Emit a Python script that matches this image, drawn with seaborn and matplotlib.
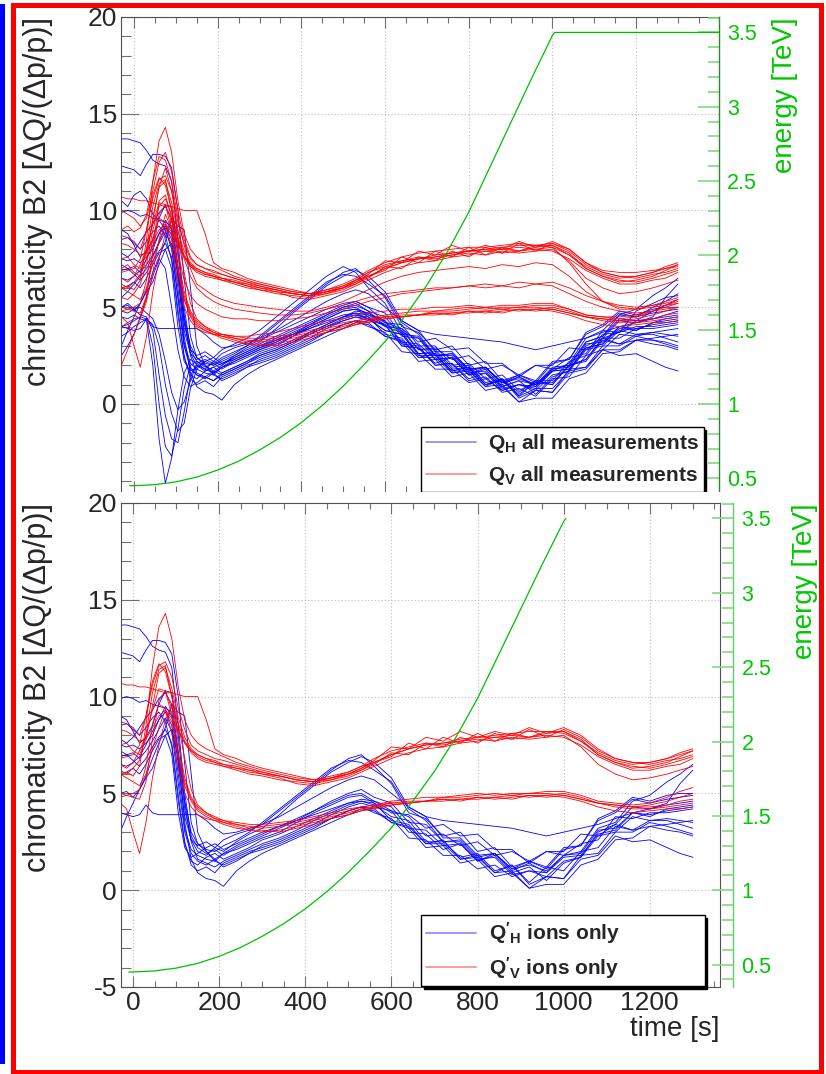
"""
Chromaticity B2 during the energy ramp: all measurements (top) and ions only (bottom),
with the beam energy on a secondary axis.
"""
import matplotlib; matplotlib.use("Agg")
import matplotlib.pyplot as plt
from matplotlib.lines import Line2D
from matplotlib.patches import Rectangle
from matplotlib.ticker import MultipleLocator, FormatStrFormatter
import pandas as pd
import seaborn as sns

# ── DATA ─────────────────────────────────────────────────────────────────────
TIME = [-30, -15, 0, 15, 30, 45, 60, 75, 90, 105, 120, 135, 150, 170, 190,
        210, 240, 270, 300, 340, 380, 420, 460, 500, 530, 560, 600, 640, 680, 720,
        760, 800, 840, 880, 920, 960, 1000, 1040, 1080, 1120, 1160, 1200, 1240, 1270, 1300]

# Q'H, ion fills (drawn in both panels)
QH_IONS = [
    [13.7, 13.7, 13.6, 13.5, 13.1, 12.6, 12.4, 12.3, 11.5, 8.5, 5.0, 2.8, 2.2, 1.9, 2.1,
     1.8, 2.2, 2.5, 2.8, 3.2, 3.6, 4.1, 4.5, 4.9, 5.0, 4.6, 4.3, 3.2, 3.1, 2.3,
     2.4, 1.5, 1.9, 1.0, 1.4, 0.9, 1.8, 1.9, 3.1, 3.2, 4.0, 3.8, 4.2, 4.3, 4.4],
    [12.3, 12.2, 12.1, 11.8, 12.4, 12.9, 12.9, 12.8, 12.2, 10.0, 6.5, 3.5, 2.4, 2.0, 1.6,
     1.9, 2.1, 2.4, 2.7, 3.0, 3.5, 4.0, 4.4, 4.8, 4.9, 4.5, 3.6, 3.4, 2.4, 2.6,
     1.6, 1.8, 0.9, 1.3, 0.4, 1.2, 1.0, 2.0, 2.2, 3.3, 3.1, 3.6, 3.6, 3.4, 3.2],
    [9.9, 10.0, 9.9, 9.7, 9.8, 9.6, 9.5, 9.4, 9.2, 7.0, 4.2, 2.6, 2.0, 1.8, 2.2,
     2.0, 2.5, 2.9, 3.2, 3.9, 4.7, 5.4, 6.1, 6.6, 6.9, 6.6, 5.8, 4.3, 3.8, 2.7,
     2.7, 1.8, 1.9, 1.1, 1.3, 1.0, 1.8, 2.0, 3.2, 3.5, 4.6, 4.9, 5.6, 6.0, 6.5],
    [9.0, 8.8, 8.2, 7.6, 7.9, 8.5, 9.6, 10.3, 10.2, 8.0, 4.5, 2.5, 1.6, 1.4, 1.2,
     1.5, 1.8, 2.1, 2.4, 2.7, 3.1, 3.6, 4.0, 4.4, 4.6, 4.4, 3.8, 3.6, 2.5, 2.5,
     1.7, 1.9, 1.0, 1.3, 0.3, 0.7, 0.6, 1.8, 1.9, 3.0, 3.0, 3.5, 3.3, 3.1, 2.9],
    [7.5, 7.4, 7.5, 7.3, 7.6, 8.0, 8.8, 9.5, 9.0, 6.5, 3.8, 2.6, 2.3, 2.5, 2.2,
     2.6, 2.9, 3.1, 3.4, 4.1, 4.8, 5.5, 6.2, 6.8, 7.0, 6.4, 5.5, 4.0, 3.7, 2.8,
     3.0, 2.0, 2.2, 1.2, 1.5, 1.1, 2.1, 2.3, 3.7, 4.1, 4.8, 4.6, 4.9, 5.0, 5.0],
    [7.2, 7.0, 7.1, 6.8, 7.2, 7.7, 8.3, 8.9, 8.2, 5.5, 3.0, 1.9, 1.5, 1.3, 1.6,
     1.2, 1.5, 1.9, 2.3, 2.6, 3.0, 3.4, 3.9, 4.3, 4.5, 4.3, 4.1, 3.0, 2.9, 2.1,
     2.4, 1.5, 1.8, 0.9, 1.2, 0.5, 1.4, 1.7, 2.8, 3.0, 3.8, 3.6, 3.7, 3.6, 3.5],
    [6.9, 7.0, 6.7, 6.4, 6.8, 7.4, 7.9, 8.3, 7.6, 4.9, 2.5, 1.3, 1.0, 1.2, 0.9,
     1.4, 1.7, 2.0, 2.2, 2.5, 2.9, 3.3, 3.7, 4.1, 4.3, 4.2, 3.5, 3.2, 2.2, 2.3,
     1.4, 1.6, 0.7, 0.9, 0.1, 0.7, 0.6, 1.6, 1.8, 2.8, 2.5, 2.6, 2.2, 1.9, 1.7],
    [6.5, 6.4, 6.6, 6.9, 7.5, 8.2, 8.8, 9.2, 8.5, 6.0, 3.2, 2.1, 1.8, 1.6, 1.5,
     1.9, 2.3, 2.6, 2.9, 3.3, 3.7, 4.1, 4.6, 5.0, 5.2, 4.8, 4.5, 3.5, 3.4, 2.5,
     2.6, 1.7, 1.9, 1.1, 1.5, 1.2, 2.2, 2.3, 3.6, 4.0, 4.7, 4.5, 4.7, 4.8, 4.9],
    [6.0, 6.1, 6.3, 6.0, 6.5, 7.2, 7.8, 8.0, 7.0, 4.0, 2.2, 1.7, 1.9, 2.2, 2.4,
     2.1, 2.4, 2.7, 3.0, 3.3, 3.6, 3.9, 4.2, 4.5, 4.6, 4.5, 4.0, 3.9, 3.2, 3.4,
     2.8, 2.9, 2.1, 2.1, 1.4, 2.0, 2.0, 2.9, 2.8, 3.4, 3.1, 3.3, 3.1, 3.0, 2.8],
    [5.0, 5.1, 4.8, 5.2, 5.9, 6.8, 7.6, 8.4, 9.6, 9.2, 9.0, 6.0, 3.0, 2.0, 1.5,
     1.3, 1.6, 1.9, 2.1, 2.4, 2.8, 3.2, 3.7, 4.1, 4.3, 4.0, 3.7, 2.7, 2.6, 1.8,
     1.8, 1.1, 1.3, 0.7, 1.0, 0.9, 1.7, 1.8, 2.9, 3.1, 4.0, 3.9, 4.1, 4.2, 4.3],
    [4.0, 3.9, 3.8, 3.9, 4.4, 4.0, 3.9, 3.9, 3.9, 3.9, 3.9, 3.9, 3.9, 3.6, 3.2,
     2.9, 3.0, 3.2, 3.4, 3.8, 4.3, 4.8, 5.3, 5.7, 5.9, 5.7, 5.0, 4.3, 3.8, 3.6,
     3.5, 3.4, 3.3, 3.2, 3.0, 2.8, 3.0, 3.2, 3.4, 3.7, 4.0, 4.2, 4.5, 5.5, 6.2],
    [3.0, 3.8, 4.5, 5.2, 5.8, 6.3, 7.2, 8.0, 8.3, 6.8, 3.5, 1.6, 0.9, 0.6, 0.5,
     0.2, 1.0, 1.5, 1.9, 2.3, 2.7, 3.1, 3.5, 3.9, 4.2, 4.1, 3.5, 3.3, 2.4, 2.4,
     1.6, 1.7, 0.9, 1.0, 0.1, 0.3, 0.3, 1.3, 1.6, 2.6, 2.7, 3.3, 3.4, 3.5, 3.6],
    [7.8, 7.6, 7.9, 8.4, 8.9, 9.3, 9.9, 10.2, 9.6, 7.2, 4.6, 3.0, 2.4, 2.1, 2.0,
     2.3, 2.6, 3.0, 3.5, 4.2, 4.9, 5.6, 6.3, 6.7, 6.6, 6.2, 5.6, 4.2, 3.6, 2.5,
     2.5, 1.6, 1.7, 0.8, 1.0, 0.7, 1.5, 1.7, 3.0, 3.4, 4.3, 4.2, 4.4, 4.5, 4.6],
    [8.5, 8.6, 8.3, 8.0, 8.4, 8.9, 9.2, 8.7, 7.4, 4.6, 2.4, 1.5, 1.3, 1.7, 1.9,
     1.6, 1.9, 2.2, 2.6, 2.9, 3.3, 3.7, 4.1, 4.5, 4.7, 4.6, 4.1, 3.8, 2.8, 2.9,
     2.3, 2.5, 1.8, 2.0, 1.5, 2.0, 1.8, 2.4, 2.6, 3.8, 3.7, 4.0, 4.0, 4.1, 4.2],
]

# Q'H, remaining (proton) measurements, top panel only
QH_OTHER = [
    [4.5, 4.4, 4.6, 4.4, 4.3, 2.0, -1.8, -4.1, -2.8, -0.3, 1.6, 2.3, 2.1, 1.8, 1.6,
     1.9, 2.2, 2.5, 2.8, 3.1, 3.5, 3.9, 4.3, 4.6, 4.7, 4.4, 4.1, 3.0, 2.9, 2.0,
     2.1, 1.3, 1.6, 0.9, 1.2, 1.0, 1.7, 1.8, 2.9, 3.1, 3.9, 3.8, 4.2, 4.4, 4.5],
    [3.5, 3.7, 4.0, 4.2, 4.4, 3.0, 0.0, -2.2, -2.7, -1.3, 0.8, 2.0, 2.2, 2.0, 1.7,
     2.0, 2.4, 2.7, 3.0, 3.4, 3.8, 4.2, 4.6, 5.0, 5.1, 4.8, 4.0, 3.7, 2.6, 2.6,
     1.7, 1.9, 1.0, 1.2, 0.5, 1.1, 1.1, 2.0, 2.3, 3.4, 3.4, 3.9, 3.9, 4.0, 4.1],
    [5.0, 5.2, 4.9, 4.6, 4.5, 3.8, 1.5, -0.6, -1.8, -2.0, -0.4, 1.5, 2.0, 1.7, 1.9,
     2.1, 2.3, 2.6, 2.9, 3.2, 3.6, 4.0, 4.4, 4.8, 4.9, 4.7, 4.3, 3.1, 3.0, 2.0,
     2.1, 1.2, 1.4, 0.6, 0.8, 0.4, 1.3, 1.4, 2.5, 2.8, 3.6, 3.5, 3.7, 3.8, 3.9],
    [4.0, 4.1, 4.3, 4.5, 4.4, 4.1, 3.0, 1.0, -0.5, -1.4, -1.0, 0.8, 1.8, 2.2, 2.0,
     2.2, 2.5, 2.8, 3.1, 3.5, 3.9, 4.3, 4.7, 5.1, 5.3, 5.0, 4.2, 3.9, 2.8, 2.8,
     1.9, 2.0, 1.1, 1.3, 0.6, 1.2, 1.2, 2.2, 2.5, 3.6, 3.7, 4.3, 4.4, 4.6, 4.8],
    [4.8, 4.7, 4.9, 5.0, 4.7, 4.4, 3.6, 2.2, 0.6, -0.3, 0.1, 1.2, 2.1, 2.3, 2.1,
     2.4, 2.7, 3.0, 3.3, 3.7, 4.1, 4.5, 4.9, 5.2, 5.3, 5.0, 4.7, 3.6, 3.5, 2.5,
     2.6, 1.8, 1.9, 1.1, 1.4, 1.0, 1.9, 2.0, 3.2, 3.5, 4.4, 4.3, 4.8, 5.1, 5.4],
    [10.5, 10.2, 10.8, 11.0, 10.6, 9.8, 9.5, 9.0, 8.0, 5.5, 3.0, 1.8, 1.5, 1.4, 1.7,
     1.5, 1.8, 2.1, 2.5, 2.8, 3.2, 3.7, 4.1, 4.5, 4.8, 4.7, 4.2, 4.1, 3.0, 3.0,
     2.0, 2.1, 1.3, 1.5, 0.7, 1.1, 1.0, 2.0, 2.3, 3.4, 3.7, 4.8, 5.2, 5.5, 5.6],
    [5.5, 5.8, 6.2, 6.6, 7.0, 7.6, 8.4, 9.1, 8.8, 6.8, 4.2, 2.8, 2.5, 2.7, 2.4,
     2.8, 3.1, 3.4, 3.8, 4.5, 5.2, 5.9, 6.6, 7.1, 6.8, 6.0, 5.2, 3.7, 3.4, 2.3,
     2.4, 1.5, 1.6, 0.7, 1.0, 0.8, 1.7, 2.1, 3.4, 3.8, 4.6, 4.5, 5.0, 5.3, 5.7],
    [2.5, 3.0, 3.6, 4.5, 5.5, 6.6, 7.5, 7.0, 5.0, 2.8, 1.4, 0.9, 1.1, 1.4, 1.2,
     1.6, 1.9, 2.2, 2.5, 2.8, 3.2, 3.6, 4.0, 4.3, 4.5, 4.4, 3.8, 3.6, 2.6, 2.7,
     1.8, 1.9, 1.0, 1.2, 0.4, 0.8, 0.8, 1.7, 1.9, 2.8, 2.8, 3.3, 3.3, 3.2, 3.0],
]

# Q'V, ion fills (both panels)
QV_IONS = [
    [6.0, 6.1, 5.9, 6.4, 8.5, 11.5, 13.6, 14.3, 13.0, 10.5, 8.8, 8.0, 7.6, 7.3, 7.1,
     6.9, 6.6, 6.4, 6.2, 6.0, 5.8, 5.7, 5.8, 6.0, 6.2, 6.5, 7.1, 7.0, 7.6, 7.4,
     7.9, 7.6, 8.1, 7.8, 8.3, 7.9, 8.3, 7.9, 7.2, 6.8, 6.6, 6.5, 6.7, 6.8, 7.0],
    [10.7, 10.6, 10.6, 10.5, 10.5, 10.4, 10.3, 10.2, 10.2, 10.1, 10.0, 10.0, 10.0, 8.8, 7.3,
     7.0, 6.8, 6.5, 6.3, 6.1, 5.9, 5.7, 5.9, 6.1, 6.4, 6.6, 7.0, 7.3, 7.5, 7.6,
     7.8, 7.9, 8.0, 8.1, 8.2, 8.2, 8.2, 7.8, 7.0, 6.6, 6.3, 6.4, 6.6, 6.9, 7.2],
    [8.7, 8.6, 8.4, 8.0, 9.0, 10.6, 11.6, 11.8, 11.0, 9.4, 8.3, 7.5, 7.2, 7.0, 6.8,
     6.7, 6.5, 6.3, 6.1, 5.9, 5.7, 5.6, 5.7, 5.9, 6.2, 6.6, 6.9, 7.6, 7.3, 7.9,
     7.6, 8.1, 7.7, 8.1, 7.9, 8.2, 8.1, 7.7, 7.0, 6.6, 6.4, 6.3, 6.5, 6.7, 6.9],
    [7.5, 7.6, 7.2, 7.0, 7.8, 9.5, 11.2, 11.5, 10.4, 8.9, 7.9, 7.3, 7.0, 6.8, 6.7,
     6.5, 6.3, 6.1, 6.0, 5.8, 5.5, 5.4, 5.6, 5.8, 6.1, 6.4, 6.8, 7.1, 7.3, 7.4,
     7.6, 7.7, 7.9, 7.8, 7.9, 8.0, 7.9, 7.5, 6.9, 6.5, 6.2, 6.2, 6.4, 6.5, 6.8],
    [6.5, 6.3, 6.6, 7.2, 8.0, 9.3, 10.4, 10.3, 9.4, 8.3, 7.6, 7.1, 6.8, 6.6, 6.5,
     6.4, 6.2, 6.0, 5.9, 5.7, 5.6, 5.5, 5.7, 6.0, 6.3, 6.7, 7.4, 7.3, 7.9, 7.7,
     8.2, 7.9, 8.2, 8.0, 8.4, 8.1, 8.4, 8.0, 7.3, 6.8, 6.6, 6.6, 6.8, 7.1, 7.3],
    [8.3, 8.2, 8.0, 7.7, 7.8, 8.4, 9.0, 9.3, 8.9, 8.2, 7.6, 7.2, 6.9, 6.7, 6.6,
     6.4, 6.3, 6.2, 6.0, 5.9, 5.7, 5.6, 5.8, 6.1, 6.4, 6.8, 7.2, 7.4, 7.6, 7.5,
     7.7, 7.8, 7.7, 7.9, 7.8, 7.9, 8.0, 7.4, 6.5, 6.0, 5.7, 5.8, 6.0, 6.2, 6.4],
    [6.2, 6.0, 6.3, 6.7, 8.0, 10.2, 11.4, 11.6, 10.0, 7.6, 5.8, 4.8, 4.3, 4.0, 3.8,
     3.6, 3.4, 3.3, 3.2, 3.3, 3.4, 3.6, 3.8, 4.0, 4.2, 4.3, 4.5, 4.6, 4.6, 4.7,
     4.7, 4.8, 4.8, 4.9, 4.8, 4.9, 5.0, 4.8, 4.5, 4.4, 4.3, 4.4, 4.6, 4.8, 5.0],
    [4.5, 4.2, 3.0, 1.9, 3.5, 5.8, 7.5, 8.8, 9.5, 8.6, 6.8, 5.2, 4.4, 4.0, 3.7,
     3.5, 3.3, 3.1, 3.1, 3.0, 3.2, 3.4, 3.7, 3.9, 4.1, 4.2, 4.4, 4.5, 4.6, 4.6,
     4.7, 4.7, 4.8, 4.7, 4.9, 4.8, 4.9, 4.7, 4.5, 4.3, 4.2, 4.2, 4.3, 4.4, 4.5],
    [5.0, 4.9, 4.8, 4.7, 5.6, 7.8, 9.8, 10.3, 9.0, 6.9, 5.4, 4.6, 4.1, 3.8, 3.6,
     3.5, 3.4, 3.2, 3.3, 3.4, 3.5, 3.7, 3.9, 4.1, 4.3, 4.4, 4.6, 4.7, 4.8, 4.8,
     4.9, 5.0, 4.9, 5.0, 5.0, 5.1, 5.1, 4.9, 4.6, 4.5, 4.4, 4.5, 4.8, 5.1, 5.3],
    [4.8, 4.9, 5.0, 5.2, 6.4, 8.6, 9.6, 9.4, 8.1, 6.3, 5.0, 4.3, 3.9, 3.7, 3.6,
     3.4, 3.2, 3.1, 3.0, 3.1, 3.3, 3.5, 3.7, 3.9, 4.1, 4.3, 4.4, 4.5, 4.6, 4.7,
     4.6, 4.8, 4.7, 4.8, 4.9, 4.9, 4.8, 4.6, 4.3, 4.1, 4.0, 4.1, 4.2, 4.2, 4.3],
    [6.8, 6.9, 7.0, 7.5, 9.0, 10.8, 11.7, 11.3, 10.0, 8.6, 7.7, 7.2, 7.0, 6.8, 6.6,
     6.5, 6.4, 6.2, 6.1, 5.9, 5.7, 5.6, 5.8, 6.0, 6.3, 6.6, 7.0, 7.3, 7.5, 7.6,
     7.7, 7.9, 7.9, 8.0, 7.9, 8.1, 8.2, 7.7, 7.1, 6.7, 6.5, 6.6, 6.8, 7.0, 7.2],
    [6.0, 5.8, 5.6, 5.4, 6.0, 7.3, 8.4, 9.3, 8.7, 7.0, 5.6, 4.7, 4.2, 3.9, 3.7,
     3.6, 3.5, 3.4, 3.4, 3.5, 3.6, 3.8, 4.0, 4.2, 4.3, 4.4, 4.5, 4.5, 4.6, 4.8,
     4.8, 4.9, 5.0, 4.9, 5.0, 5.0, 4.9, 4.7, 4.5, 4.4, 4.3, 4.3, 4.4, 4.6, 4.7],
]

# Q'V, remaining measurements, top panel only
QV_OTHER = [
    [9.0, 9.2, 8.9, 9.1, 9.8, 11.5, 12.8, 12.6, 11.5, 9.6, 8.2, 7.0, 6.2, 5.9, 5.6,
     5.4, 5.2, 5.1, 5.0, 4.9, 4.8, 4.8, 5.0, 5.3, 5.6, 5.9, 6.3, 6.6, 6.8, 6.9,
     7.0, 7.1, 7.0, 7.2, 7.1, 7.3, 7.2, 6.6, 5.8, 5.3, 5.0, 4.9, 5.1, 5.3, 5.5],
    [7.0, 7.2, 6.8, 6.6, 7.5, 9.6, 11.2, 12.2, 11.0, 9.0, 7.5, 6.6, 6.0, 5.6, 5.3,
     5.1, 4.9, 4.8, 4.7, 4.6, 4.6, 4.7, 4.9, 5.1, 5.3, 5.5, 5.7, 5.8, 5.9, 6.0,
     6.0, 6.1, 6.2, 6.1, 6.3, 6.2, 6.3, 6.0, 5.6, 5.3, 5.1, 5.0, 5.1, 5.2, 5.4],
    [4.0, 4.2, 4.4, 4.5, 5.5, 8.0, 10.5, 10.8, 9.6, 7.8, 6.4, 5.6, 5.2, 4.9, 4.7,
     4.5, 4.4, 4.4, 4.3, 4.3, 4.4, 4.5, 4.7, 4.9, 5.1, 5.3, 5.5, 5.7, 5.8, 5.9,
     6.0, 6.1, 6.0, 6.1, 6.0, 6.2, 6.1, 5.7, 5.3, 5.0, 4.8, 4.7, 4.8, 4.9, 5.0],
    [2.0, 2.8, 3.6, 4.4, 5.3, 6.8, 8.5, 9.8, 9.0, 7.0, 5.4, 4.5, 4.0, 3.8, 3.6,
     3.6, 3.5, 3.5, 3.6, 3.7, 3.9, 4.1, 4.3, 4.4, 4.6, 4.7, 4.8, 4.9, 4.9, 5.0,
     5.0, 5.1, 5.0, 5.1, 5.1, 5.2, 5.2, 4.9, 4.6, 4.5, 4.5, 4.6, 4.8, 5.0, 5.2],
    [10.0, 9.8, 9.6, 9.2, 9.6, 11.0, 12.5, 13.0, 12.0, 10.0, 8.5, 7.6, 7.2, 7.0, 6.9,
     6.7, 6.5, 6.3, 6.2, 6.0, 5.8, 5.7, 5.9, 6.2, 6.5, 6.9, 7.3, 7.6, 7.8, 7.9,
     8.0, 8.1, 8.1, 8.2, 8.3, 8.2, 8.3, 8.0, 7.3, 6.9, 6.8, 6.8, 6.9, 7.0, 7.1],
    [5.5, 5.4, 5.7, 6.2, 7.2, 9.0, 10.2, 10.6, 9.8, 8.5, 7.6, 7.1, 6.9, 6.7, 6.6,
     6.5, 6.3, 6.1, 5.9, 5.8, 5.7, 5.6, 5.8, 6.0, 6.4, 6.8, 7.1, 7.4, 7.5, 7.7,
     7.8, 7.9, 8.0, 8.0, 8.1, 8.0, 8.1, 7.3, 6.2, 5.3, 4.9, 4.9, 5.0, 5.1, 5.2],
]

# beam energy ramp
RAMP_TIME = [-10, 0, 50, 100, 150, 200, 250, 300, 350, 400, 450, 500, 550, 600,
             650, 700, 750, 800, 850, 900, 950, 1000, 1005, 1400]
RAMP_TEV = [0.45, 0.45, 0.457, 0.476, 0.508, 0.555, 0.615, 0.69, 0.775, 0.875, 0.99,
            1.12, 1.265, 1.42, 1.60, 1.80, 2.03, 2.29, 2.59, 2.89, 3.19, 3.48, 3.50, 3.50]
RAMP_END_IONS = 1005

TOP_LABELS = [r"$\mathbf{Q_{H}}$ all measurements", r"$\mathbf{Q_{V}}$ all measurements"]
BOT_LABELS = [r"$\mathbf{Q'_{H}}$ ions only", r"$\mathbf{Q'_{V}}$ ions only"]

# ── STYLE ────────────────────────────────────────────────────────────────────
BLUE, RED = "#0000ff", "#ff0000"
GREEN_LINE, GREEN_TXT, GREEN_TICK = "#00c000", "#00c800", "#7fdc7f"
TICK_C, FRAME_C, GRID_C = "#707070", "#505050", "#bdbdbd"
TEV_PER_UNIT = 0.1302          # energy axis: 1 TeV sits on chroma 0
W, H = 826, 1074

sns.set_theme(style="white")
plt.rcParams["font.family"] = ["Liberation Sans", "DejaVu Sans"]
plt.rcParams["axes.unicode_minus"] = False
plt.rcParams["mathtext.fontset"] = "custom"
plt.rcParams["mathtext.rm"] = "Liberation Sans"
plt.rcParams["mathtext.bf"] = "Liberation Sans:bold"
plt.rcParams["mathtext.it"] = "Liberation Sans:italic"


def px_rect(left, top, right, bottom):
    return [left / W, 1 - bottom / H, (right - left) / W, (bottom - top) / H]


def long_form(curves, tag):
    rows = []
    for i, vals in enumerate(curves):
        if len(vals) != len(TIME):
            raise ValueError(f"{tag}{i}: {len(vals)} values")
        rows += [{"time": t, "chroma": v, "curve": f"{tag}{i}"} for t, v in zip(TIME, vals)]
    return pd.DataFrame(rows)


def draw_panel(ax, blue, red, ramp, xlim, ylim, labels, leg_top, offset, show_x):
    for df, col in ((blue, BLUE), (red, RED)):
        sns.lineplot(data=df, x="time", y="chroma", units="curve", estimator=None,
                     color=col, lw=0.6, ax=ax, legend=False, sort=False)
    ax.set_xlim(*xlim); ax.set_ylim(*ylim)
    ax.xaxis.set_major_locator(MultipleLocator(200)); ax.xaxis.set_minor_locator(MultipleLocator(50))
    ax.yaxis.set_major_locator(MultipleLocator(5)); ax.yaxis.set_minor_locator(MultipleLocator(1))
    ax.xaxis.set_major_formatter(FormatStrFormatter("%g"))
    ax.yaxis.set_major_formatter(FormatStrFormatter("%g"))
    ax.tick_params(axis="x", which="both", direction="in", top=True, bottom=True,
                   color=TICK_C, width=0.8, labelsize=19, pad=3, labelbottom=show_x)
    ax.tick_params(axis="x", which="major", length=8)
    ax.tick_params(axis="x", which="minor", length=4.5)
    ax.tick_params(axis="y", which="both", direction="in", left=True, right=False,
                   color=TICK_C, width=0.8, labelsize=19, pad=3)
    ax.tick_params(axis="y", which="major", length=13)
    ax.tick_params(axis="y", which="minor", length=7)
    ax.grid(True, which="major", ls=(0, (1, 2)), color=GRID_C, lw=0.8)
    for s in ax.spines.values():
        s.set_color(FRAME_C); s.set_linewidth(0.8)
    ax.spines["right"].set_visible(offset > 0)
    ax.spines["bottom"].set_visible(show_x)
    ax.set_xlabel("")
    ax.set_ylabel("chromaticity B2 [ΔQ/(Δp/p)]", fontsize=22, loc="top")
    ax.yaxis.set_label_coords(-0.1137, 1.0)

    axe = ax.twinx()
    sns.lineplot(x=ramp[0], y=ramp[1], color=GREEN_LINE, lw=0.9, ax=axe)
    axe.set_ylim(1 + ylim[0] * TEV_PER_UNIT, 1 + ylim[1] * TEV_PER_UNIT)
    axe.yaxis.set_major_locator(MultipleLocator(0.5)); axe.yaxis.set_minor_locator(MultipleLocator(0.1))
    axe.yaxis.set_major_formatter(FormatStrFormatter("%g"))
    axe.tick_params(axis="y", which="both", direction="in", color=GREEN_TICK, width=1.2,
                    labelcolor=GREEN_TXT, labelsize=15.5, pad=6)
    axe.tick_params(axis="y", which="major", length=15)
    axe.tick_params(axis="y", which="minor", length=8)
    for k in ("left", "top", "bottom"):
        axe.spines[k].set_visible(False)
    axe.spines["right"].set_position(("outward", offset))
    axe.spines["right"].set_color("#2a8a2a" if offset == 0 else "#66cc66")
    axe.spines["right"].set_linewidth(1.0)
    axe.set_ylabel("energy [TeV]", color=GREEN_TXT, fontsize=20, loc="top")
    axe.yaxis.set_label_coords(1.0886 if offset == 0 else 1.1202, 1.0)
    axe.grid(False)

    handles = [Line2D([], [], color=BLUE, alpha=0.4, lw=1.4),
               Line2D([], [], color=RED, alpha=0.4, lw=1.4)]
    axe.legend(handles, labels, loc="upper left", bbox_to_anchor=(0.5013, leg_top, 0.4729, 0),
               mode="expand", borderaxespad=0, fancybox=False, framealpha=1,
               edgecolor="black", shadow={"color": "black", "alpha": 1},
               prop={"weight": "bold", "size": 15}, handlelength=2.4,
               handletextpad=0.6, borderpad=0.25, labelspacing=0.42)
    return axe


blue_all = long_form(QH_IONS + QH_OTHER, "h")
red_all = long_form(QV_IONS + QV_OTHER, "v")
blue_ion = long_form(QH_IONS, "h")
red_ion = long_form(QV_IONS, "v")
ramp_all = (RAMP_TIME, RAMP_TEV)
ramp_ion = ([t for t in RAMP_TIME if t <= RAMP_END_IONS],
            [e for t, e in zip(RAMP_TIME, RAMP_TEV) if t <= RAMP_END_IONS])

fig = plt.figure(figsize=(W / 100, H / 100), dpi=100)
ax_top = fig.add_axes(px_rect(121, 17, 719, 492))
draw_panel(ax_top, blue_all, red_all, ramp_all, (-31, 1398), (-4.55, 20),
           TOP_LABELS, 0.1368, 0, False)

# the lower pad is opaque and hides the bottom of the upper one
pad = fig.add_axes(px_rect(15, 492, 818, 1069))
pad.set_xticks([]); pad.set_yticks([])
for s in pad.spines.values():
    s.set_visible(False)
pad.set_facecolor("white")

ax_bot = fig.add_axes(px_rect(121, 503, 720, 987))
draw_panel(ax_bot, blue_ion, red_ion, ramp_ion, (-28, 1363), (-5, 20),
           BOT_LABELS, 0.1488, 9.4, True)
ax_bot.set_xlabel("time [s]", fontsize=20, loc="right")
ax_bot.xaxis.set_label_coords(1.0, -0.06)

# canvas frame
fig.add_artist(Rectangle((0, 1 - 1064 / H), 4.5 / W, 1060 / H, transform=fig.transFigure,
                         facecolor=BLUE, edgecolor="none"))
fig.add_artist(Rectangle((12.5 / W, 1 - 1071.5 / H), 808 / W, 1067 / H, transform=fig.transFigure,
                         facecolor="none", edgecolor=RED, lw=3.6))

fig.savefig("out.png", dpi=100)
